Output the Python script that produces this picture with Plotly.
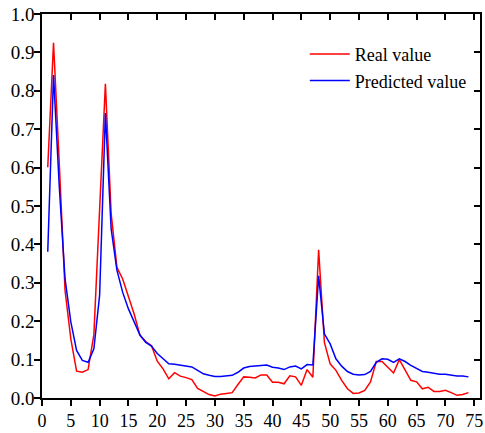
import plotly.graph_objects as go

x_index = list(range(1, 75))

real_value = [
    0.601, 0.925, 0.61, 0.28, 0.154, 0.070, 0.067, 0.074, 0.165, 0.474,
    0.818, 0.48, 0.340, 0.310, 0.262, 0.218, 0.163, 0.147, 0.136, 0.096,
    0.076, 0.050, 0.066, 0.057, 0.053, 0.048, 0.025, 0.016, 0.009, 0.005,
    0.010, 0.012, 0.014, 0.035, 0.055, 0.054, 0.052, 0.060, 0.060, 0.041,
    0.041, 0.037, 0.058, 0.055, 0.033, 0.074, 0.054, 0.386, 0.145, 0.089,
    0.072, 0.046, 0.024, 0.012, 0.013, 0.020, 0.042, 0.095, 0.095, 0.080,
    0.065, 0.100, 0.072, 0.046, 0.042, 0.024, 0.028, 0.017, 0.017, 0.020,
    0.014, 0.007, 0.009, 0.014,
]

predicted_value = [
    0.381, 0.841, 0.55, 0.31, 0.198, 0.124, 0.098, 0.093, 0.128, 0.268,
    0.742, 0.44, 0.333, 0.275, 0.232, 0.197, 0.164, 0.145, 0.135, 0.116,
    0.102, 0.089, 0.088, 0.086, 0.084, 0.081, 0.072, 0.063, 0.059, 0.056,
    0.056, 0.057, 0.059, 0.067, 0.078, 0.082, 0.083, 0.085, 0.086, 0.080,
    0.078, 0.074, 0.081, 0.083, 0.076, 0.087, 0.086, 0.318, 0.167, 0.141,
    0.102, 0.083, 0.069, 0.062, 0.060, 0.061, 0.069, 0.093, 0.102, 0.101,
    0.093, 0.102, 0.095, 0.085, 0.076, 0.069, 0.067, 0.064, 0.062, 0.062,
    0.060, 0.057, 0.057, 0.055,
]

x_ticks = list(range(0, 80, 5))
y_ticks = [round(0.1 * i, 1) for i in range(11)]

FONT = "Liberation Serif"

fig = go.Figure()
fig.add_trace(go.Scatter(x=x_index, y=real_value, mode="lines", name="Real value",
                         line=dict(color="#ff0000", width=1.5)))
fig.add_trace(go.Scatter(x=x_index, y=predicted_value, mode="lines", name="Predicted value",
                         line=dict(color="#0000ff", width=1.5)))
# invisible trace to anchor mirror axes
fig.add_trace(go.Scatter(x=[], y=[], xaxis="x2", yaxis="y2", showlegend=False,
                         hoverinfo="skip"))

axis_common = dict(showgrid=False, zeroline=False, showline=True, linecolor="black",
                   linewidth=1.5, tickcolor="black", tickwidth=1.5, ticklen=6)

fig.update_layout(
    width=485, height=433,
    margin=dict(l=42, r=2, t=14, b=34),
    paper_bgcolor="white", plot_bgcolor="white",
    font=dict(family=FONT, size=18, color="black"),
    xaxis=dict(range=[0, 76], tickvals=x_ticks, ticks="outside",
               ticklabeloverflow="allow", **axis_common),
    yaxis=dict(range=[0, 1.0], tickvals=y_ticks, tickformat=".1f", ticks="outside",
               tickfont=dict(family=FONT, size=19), ticklabelstandoff=-4,
               ticklabeloverflow="allow", **axis_common),
    xaxis2=dict(range=[0, 76], tickvals=x_ticks, ticks="inside", side="top",
                overlaying="x", showticklabels=False, **axis_common),
    yaxis2=dict(range=[0, 1.0], tickvals=y_ticks, ticks="inside", side="right",
                overlaying="y", showticklabels=False, **axis_common),
    legend=dict(x=0.6, y=0.943, xanchor="left", yanchor="top",
                bgcolor="rgba(0,0,0,0)", borderwidth=0,
                font=dict(family=FONT, size=18), itemwidth=40),
    showlegend=True,
)

fig.write_html("out.html")
